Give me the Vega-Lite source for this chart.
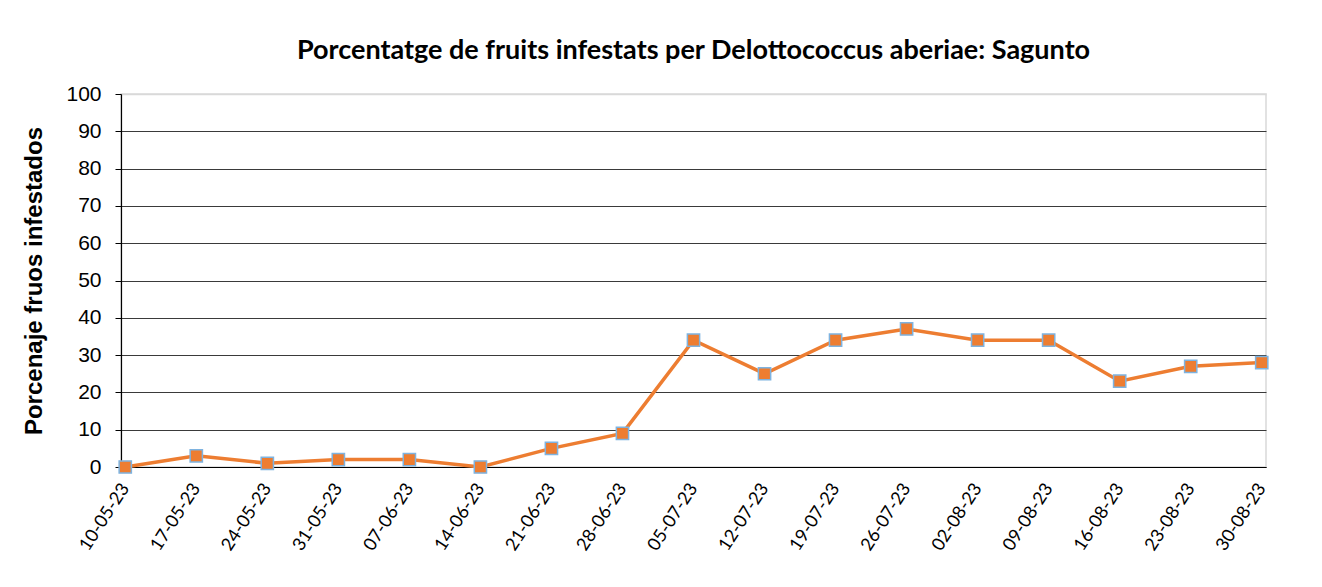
{
  "$schema": "https://vega.github.io/schema/vega-lite/v6.json",
  "autosize": "none",
  "width": 1145,
  "height": 373,
  "padding": {"left": 121, "top": 94, "right": 56, "bottom": 120},
  "background": "white",
  "config": {
    "view": {"stroke": "#d9d9d9", "strokeWidth": 1.5},
    "axis": {"labelFont": "Liberation Sans", "titleFont": "Liberation Sans"}
  },
  "title": {
    "text": "Porcentatge de fruits infestats per Delottococcus aberiae: Sagunto",
    "font": "Lato",
    "fontSize": 27,
    "fontWeight": "bold",
    "color": "#000000",
    "anchor": "middle",
    "offset": 18
  },
  "data": {
    "values": [
      {"fecha": "10-05-23", "pct": 0},
      {"fecha": "17-05-23", "pct": 3},
      {"fecha": "24-05-23", "pct": 1},
      {"fecha": "31-05-23", "pct": 2},
      {"fecha": "07-06-23", "pct": 2},
      {"fecha": "14-06-23", "pct": 0},
      {"fecha": "21-06-23", "pct": 5},
      {"fecha": "28-06-23", "pct": 9},
      {"fecha": "05-07-23", "pct": 34},
      {"fecha": "12-07-23", "pct": 25},
      {"fecha": "19-07-23", "pct": 34},
      {"fecha": "26-07-23", "pct": 37},
      {"fecha": "02-08-23", "pct": 34},
      {"fecha": "09-08-23", "pct": 34},
      {"fecha": "16-08-23", "pct": 23},
      {"fecha": "23-08-23", "pct": 27},
      {"fecha": "30-08-23", "pct": 28}
    ]
  },
  "encoding": {
    "x": {
      "field": "fecha",
      "type": "ordinal",
      "sort": null,
      "scale": {"type": "point", "padding": 0.06},
      "axis": {
        "title": null,
        "labelAngle": -57,
        "labelAlign": "right",
        "labelBaseline": "middle",
        "labelFont": "Lato",
        "labelFontSize": 18,
        "labelColor": "#000000",
        "labelPadding": 18,
        "ticks": false,
        "domainColor": "#000000",
        "domainWidth": 1.2,
        "grid": false
      }
    },
    "y": {
      "field": "pct",
      "type": "quantitative",
      "scale": {"domain": [0, 100], "nice": false},
      "axis": {
        "title": "Porcenaje fruos infestados",
        "titleFontSize": 24,
        "titleFontWeight": "bold",
        "titleColor": "#000000",
        "titlePadding": 19,
        "values": [0, 10, 20, 30, 40, 50, 60, 70, 80, 90, 100],
        "labelFontSize": 21,
        "labelColor": "#000000",
        "labelPadding": 14,
        "tickSize": 6,
        "tickColor": "#000000",
        "domainColor": "#000000",
        "domainWidth": 1.2,
        "grid": true,
        "gridColor": {"condition": {"test": "datum.value === 100", "value": "#d9d9d9"}, "value": "#3a3a3a"},
        "gridWidth": {"condition": {"test": "datum.value === 100", "value": 1.5}, "value": 1}
      }
    }
  },
  "layer": [
    {
      "mark": {"type": "line", "color": "#ED7D31", "strokeWidth": 3.5}
    },
    {
      "mark": {
        "type": "point",
        "shape": "square",
        "filled": true,
        "size": 150,
        "fill": "#ED7D31",
        "stroke": "#7EB3E0",
        "strokeWidth": 1.5,
        "opacity": 1
      }
    }
  ]
}
